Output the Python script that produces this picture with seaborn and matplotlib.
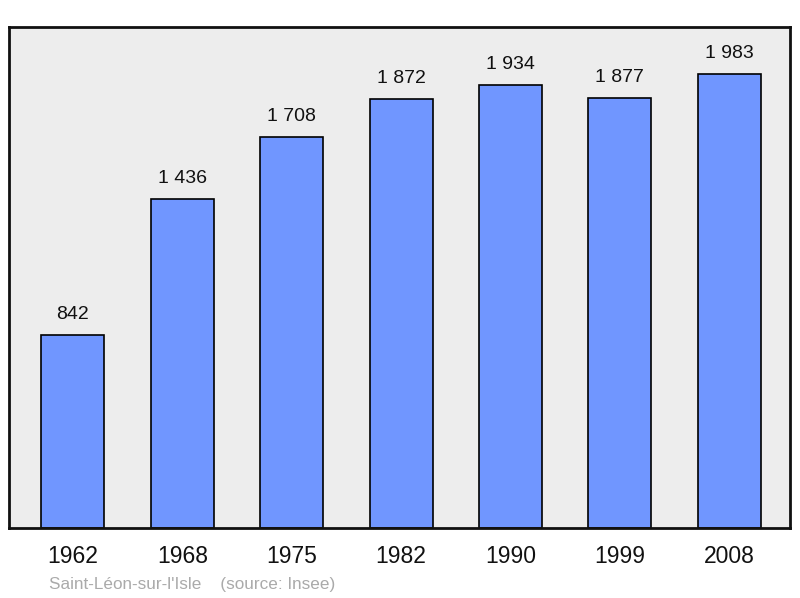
import matplotlib
matplotlib.use("Agg")
import matplotlib.pyplot as plt
import seaborn as sns
import pandas as pd

# Population data
years = ["1962", "1968", "1975", "1982", "1990", "1999", "2008"]
population = [842, 1436, 1708, 1872, 1934, 1877, 1983]
value_labels = ["842", "1 436", "1 708", "1 872", "1 934", "1 877", "1 983"]

commune = "Saint-Léon-sur-l'Isle"
source = "(source: Insee)"

df = pd.DataFrame({'year': years, 'population': population})

sns.set_style("white")
plt.rcParams['font.family'] = ['Liberation Sans', 'DejaVu Sans']

fig = plt.figure(figsize=(8, 5.98), dpi=100)
ax = fig.add_axes([9 / 800, 70 / 598, 781 / 800, 501 / 598])
ax.set_facecolor("#ededed")

sns.barplot(data=df, x='year', y='population', color="#7096ff", saturation=1,
            width=0.576, edgecolor="black", linewidth=1.2, ax=ax)

# value labels above bars
for i, (v, lab) in enumerate(zip(population, value_labels)):
    ax.annotate(lab, (i, v), xytext=(0, 8.5), textcoords="offset points",
                ha="center", va="bottom", fontsize=14, color="#111111")

ax.set_xlim(-0.585, 6.555)
ax.set_ylim(0, 2186)
ax.set_yticks([])
ax.set_xlabel("")
ax.set_ylabel("")
ax.tick_params(axis='x', length=0, labelsize=16.5, pad=12, labelcolor="#111111")
for s in ax.spines.values():
    s.set_color("#111111")
    s.set_linewidth(2)

fig.text(49 / 800, 1 - 584 / 598, commune + "    " + source, fontsize=12.3,
         color="#aaaaaa", ha="left", va="center")

fig.savefig("out.png", dpi=100)
